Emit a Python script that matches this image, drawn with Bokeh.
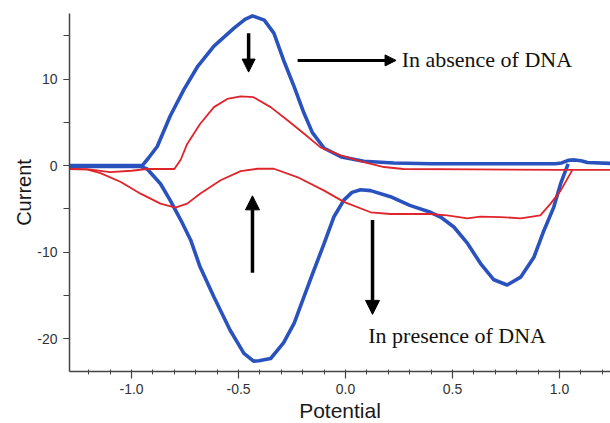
from bokeh.plotting import figure
from bokeh.models import (Range1d, SingleIntervalTicker, NumeralTickFormatter, Label, Arrow,
                          NormalHead, Title)
from bokeh.embed import file_html
from bokeh.resources import INLINE

# ---- data ----
blue_fwd_x = [-1.29, -1.1, -0.95, -0.92, -0.88, -0.82, -0.755, -0.69, -0.615, -0.52, -0.47, -0.435,
              -0.38, -0.335, -0.29, -0.24, -0.195, -0.155, -0.10, -0.02, 0.085, 0.225, 0.40, 0.6,
              0.8, 0.98, 1.01, 1.04, 1.07, 1.1, 1.13, 1.24]
blue_fwd_y = [0.0, 0.0, 0.0, 0.9, 2.2, 5.7, 8.8, 11.5, 13.8, 15.9, 16.9, 17.3,
              16.8, 15.3, 12.2, 9.1, 6.1, 3.8, 2.0, 1.0, 0.5, 0.3, 0.2, 0.2,
              0.2, 0.2, 0.3, 0.6, 0.65, 0.55, 0.35, 0.25]
blue_rev_x = [1.04, 1.005, 0.973, 0.927, 0.88, 0.818, 0.755, 0.693, 0.63, 0.57, 0.506, 0.444,
              0.397, 0.30, 0.21, 0.117, 0.07, 0.03, -0.008, -0.055, -0.10, -0.148, -0.195, -0.24,
              -0.29, -0.35, -0.405, -0.43, -0.475, -0.54, -0.615, -0.68, -0.724, -0.77, -0.82,
              -0.865, -0.927, -0.96, -1.29]
blue_rev_y = [0.2, -2.1, -4.8, -7.5, -10.6, -12.9, -13.8, -13.2, -11.3, -9.0, -7.1, -5.95,
              -5.4, -4.6, -3.6, -2.9, -2.8, -3.1, -4.0, -5.95, -9.0, -12.1, -15.2, -18.2,
              -20.5, -22.3, -22.55, -22.6, -21.7, -19.0, -15.2, -11.7, -8.6, -6.3, -4.0,
              -2.1, -0.4, -0.1, -0.1]
red_fwd_x = [-1.29, -1.2, -1.1, -1.0, -0.93, -0.80, -0.77, -0.74, -0.68, -0.615, -0.553, -0.49,
             -0.43, -0.35, -0.27, -0.195, -0.117, -0.023, 0.085, 0.18, 0.27, 0.6, 1.0, 1.24]
red_fwd_y = [-0.4, -0.45, -0.75, -0.6, -0.4, -0.4, 0.7, 2.5, 4.8, 6.75, 7.7, 8.0,
             7.9, 6.75, 5.2, 3.7, 2.1, 1.17, 0.4, -0.17, -0.4, -0.45, -0.5, -0.5]
red_rev_x = [1.06, 1.005, 0.958, 0.91, 0.818, 0.724, 0.63, 0.57, 0.475, 0.397, 0.21, 0.117,
             -0.008, -0.10, -0.226, -0.335, -0.41, -0.49, -0.584, -0.68, -0.74, -0.795, -0.865,
             -0.958, -1.05, -1.145, -1.21, -1.29]
red_rev_y = [-0.5, -2.9, -4.4, -5.75, -6.1, -5.95, -5.9, -6.1, -5.75, -5.6, -5.6, -5.4,
             -4.2, -2.9, -1.33, -0.37, -0.37, -0.64, -1.7, -3.25, -4.4, -4.86, -4.4,
             -3.25, -1.9, -0.87, -0.45, -0.4]

x_ticks_interval = 0.5
y_ticks_interval = 10

label_absence = "In absence of DNA"
label_presence = "In presence of DNA"
x_title = "Potential"
y_title = "Current"

BLUE = "#2a52be"
RED = "#e0242c"

p = figure(width=610, height=423, output_backend="svg", toolbar_location=None,
           x_range=Range1d(-1.29, 1.238), y_range=Range1d(-23.8, 17.57),
           min_border_left=69, min_border_right=0, min_border_top=13, min_border_bottom=52)
p.background_fill_color = "white"
p.border_fill_color = "white"
p.outline_line_color = None
p.xgrid.visible = False
p.ygrid.visible = False

# axes
p.xaxis.ticker = SingleIntervalTicker(interval=x_ticks_interval, num_minor_ticks=5)
p.yaxis.ticker = SingleIntervalTicker(interval=y_ticks_interval, num_minor_ticks=2)
p.xaxis.formatter = NumeralTickFormatter(format="0.0")
p.yaxis.formatter = NumeralTickFormatter(format="0")
for ax in (p.xaxis, p.yaxis):
    ax.axis_line_color = "#444444"
    ax.axis_line_width = 1.5
    ax.major_tick_line_color = "#444444"
    ax.minor_tick_line_color = "#444444"
    ax.major_tick_line_width = 1.2
    ax.major_tick_in = 0
    ax.major_label_text_font = "Liberation Sans"
    ax.major_label_text_font_size = "14px"
    ax.major_label_text_color = "#333333"
p.xaxis.major_tick_out = 7
p.xaxis.minor_tick_in = 2
p.xaxis.minor_tick_out = 3
p.xaxis.major_label_standoff = 5
p.yaxis.major_tick_out = 6
p.yaxis.minor_tick_in = 0
p.yaxis.minor_tick_out = 6
p.yaxis.major_label_standoff = 6

# axis titles (as side titles so they can be offset like in the reference)
p.add_layout(Title(text=x_title, align="center", offset=-29, standoff=0,
                   text_font="Liberation Sans", text_font_size="21px",
                   text_font_style="normal", text_color="#1a1a1a"), "below")
p.add_layout(Title(text=y_title, align="center", offset=-28, standoff=0,
                   text_font="Liberation Sans", text_font_size="20px",
                   text_font_style="normal", text_color="#1a1a1a"), "left")

# curves
p.line(blue_fwd_x, blue_fwd_y, line_color=BLUE, line_width=3.6, line_join="round")
p.line(blue_rev_x, blue_rev_y, line_color=BLUE, line_width=3.6, line_join="round")
p.line(red_fwd_x, red_fwd_y, line_color=RED, line_width=1.8, line_join="round")
p.line(red_rev_x, red_rev_y, line_color=RED, line_width=1.8, line_join="round")

# arrows
def add_arrow(x0, y0, x1, y1, lw, size):
    p.add_layout(Arrow(end=NormalHead(size=size, fill_color="black", line_color="black"),
                       x_start=x0, y_start=y0, x_end=x1, y_end=y1,
                       line_color="black", line_width=lw))

add_arrow(-0.453, 15.3, -0.453, 10.8, 3.5, 13)
add_arrow(-0.224, 12.15, 0.236, 12.15, 3.0, 11)
add_arrow(-0.435, -12.4, -0.435, -3.5, 3.5, 14)
add_arrow(0.126, -6.3, 0.126, -17.2, 3.5, 14)

p.add_layout(Label(x=0.262, y=12.2, text=label_absence, text_font="Liberation Serif",
                   text_font_size="22px", text_color="#111111", text_baseline="middle"))
p.add_layout(Label(x=0.106, y=-19.6, text=label_presence, text_font="Liberation Serif",
                   text_font_size="22px", text_color="#111111", text_baseline="middle"))

open("out.html", "w").write(file_html(p, INLINE))
